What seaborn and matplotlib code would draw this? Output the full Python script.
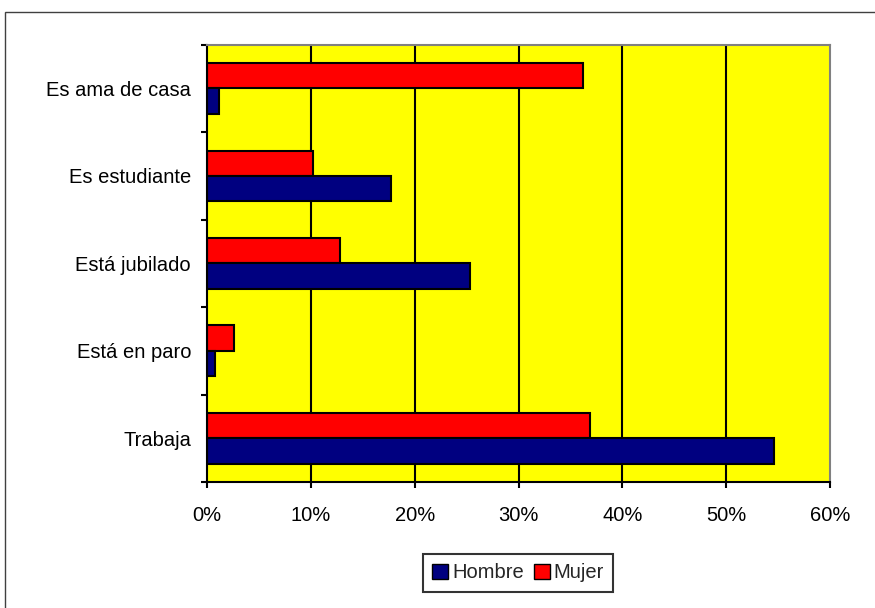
import matplotlib
matplotlib.use("Agg")
import matplotlib.pyplot as plt
import seaborn as sns
import pandas as pd
from matplotlib.patches import Patch, Rectangle
from matplotlib.ticker import FixedLocator, PercentFormatter

categories = ["Es ama de casa", "Es estudiante", "Está jubilado", "Está en paro", "Trabaja"]
mujer = [36.2, 10.2, 12.8, 2.6, 36.9]
hombre = [1.2, 17.7, 25.3, 0.8, 54.6]
series = ["Mujer", "Hombre"]
x_ticks = [0, 10, 20, 30, 40, 50, 60]

df = pd.DataFrame({
    "cat": categories * 2,
    "val": mujer + hombre,
    "serie": ["Mujer"] * len(categories) + ["Hombre"] * len(categories),
})

sns.set_style("white")
plt.rcParams["font.family"] = ["Liberation Sans", "DejaVu Sans"]

fig = plt.figure(figsize=(8.75, 6.08), dpi=100)
ax = fig.add_axes([207/875, 1-482/608, (830-207)/875, (482-44.7)/608])

palette = {"Mujer": "#FF0000", "Hombre": "#000080"}
sns.barplot(data=df, x="val", y="cat", hue="serie", hue_order=series,
            order=categories, palette=palette, orient="h", width=0.58,
            edgecolor="black", linewidth=1.5, saturation=1, ax=ax, legend=False)

ax.set_facecolor("#FFFF00")
ax.set_xlim(0, 60)
ax.set_ylim(4.5, -0.5)
ax.xaxis.set_major_locator(FixedLocator(x_ticks))
ax.xaxis.set_major_formatter(PercentFormatter(decimals=0))
for v in x_ticks[1:-1]:
    ax.axvline(v, color="black", lw=1.5, zorder=0.5)
ax.set_axisbelow(True)
ax.set_xlabel("")
ax.set_ylabel("")

ax.yaxis.set_minor_locator(FixedLocator([-0.5, 0.5, 1.5, 2.5, 3.5, 4.5]))
ax.tick_params(axis="y", which="major", length=0, pad=11.5, labelsize=14.5, colors="black")
ax.tick_params(axis="y", which="minor", left=True, length=4.5, width=1.5, color="black")
ax.tick_params(axis="x", which="major", bottom=True, length=4.5, width=1.5,
               pad=12.5, labelsize=14.5, colors="black")

for s in ["left", "bottom"]:
    ax.spines[s].set_color("black")
    ax.spines[s].set_linewidth(1.5)
for s in ["top", "right"]:
    ax.spines[s].set_color("#808080")
    ax.spines[s].set_linewidth(1.5)
    ax.spines[s].set_visible(True)

handles = [Patch(facecolor="#000080", edgecolor="black", label="Hombre"),
           Patch(facecolor="#FF0000", edgecolor="black", label="Mujer")]
leg = fig.legend(handles=handles, ncol=2, loc="center",
                 bbox_to_anchor=(518/875, 1-573/608), frameon=True, fontsize=14.5,
                 handlelength=0.8, handleheight=0.8, handletextpad=0.2,
                 columnspacing=0.5, borderpad=0.45, borderaxespad=0, fancybox=False)
leg.get_frame().set_edgecolor("black")
leg.get_frame().set_linewidth(1.5)

fig.patches.append(Rectangle((5/875, -20/608), (900-5)/875, (596+20)/608,
                             transform=fig.transFigure, fill=False,
                             edgecolor="#404040", linewidth=1, clip_on=False))

fig.savefig("out.png", dpi=100)
